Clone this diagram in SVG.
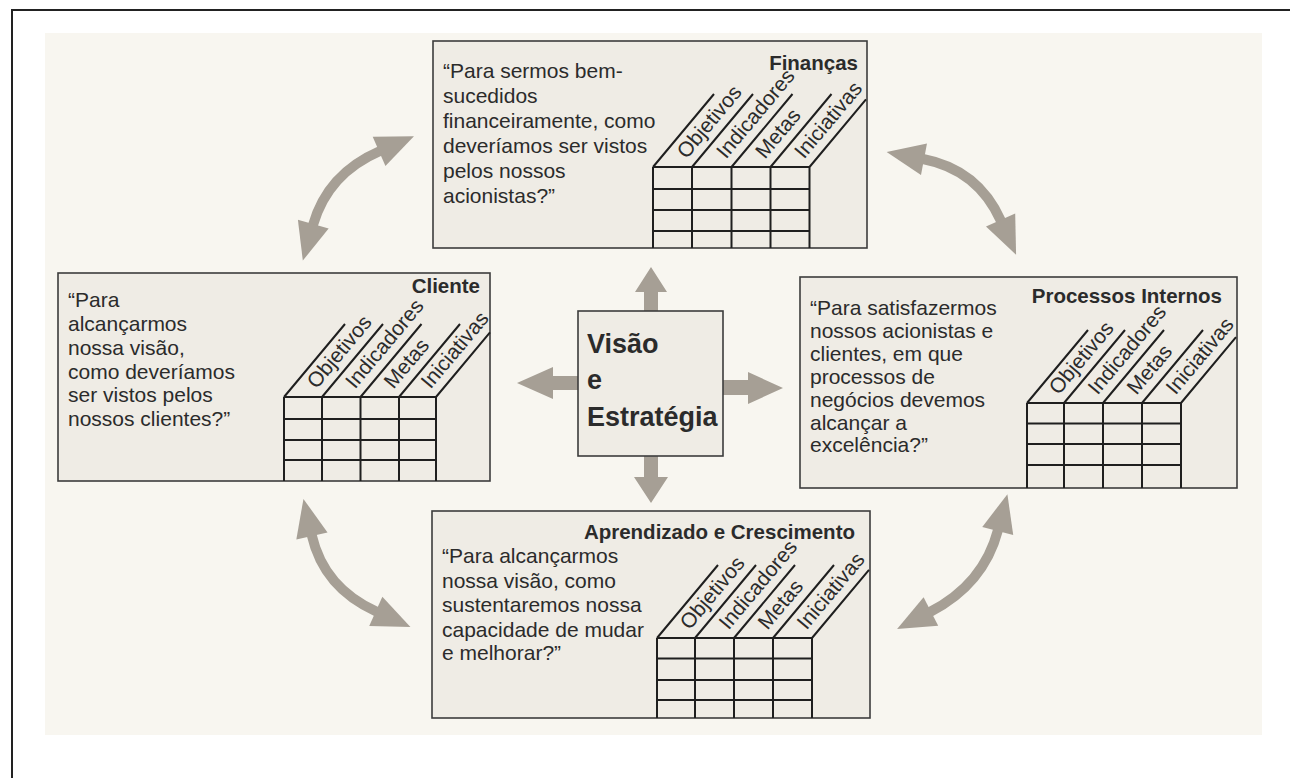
<svg xmlns="http://www.w3.org/2000/svg" width="1290" height="778" viewBox="0 0 1290 778">
<style>
.frame{stroke:#222;stroke-width:2;fill:none}
.box{fill:#efece5;stroke:#3c3c3c;stroke-width:1.6}
.t{font-family:"Liberation Sans",Arial,Helvetica,sans-serif;fill:#2b2b2b}
.body{font-size:21px}
.title{font-size:20.5px;font-weight:bold;text-anchor:end}
.lbl{font-size:21px}
.center{font-size:27px;font-weight:bold}
.grid{stroke:#1f1f1f;stroke-width:2;fill:none}
.arc{stroke:#a69f95;stroke-width:10;fill:none;marker-start:url(#head);marker-end:url(#head)}
.arrow{fill:#a69f95}
</style>
<defs>
<marker id="head" markerUnits="userSpaceOnUse" markerWidth="38" markerHeight="32" viewBox="0 0 38 32" refX="1" refY="16" orient="auto-start-reverse" overflow="visible">
<path d="M0,0 L38,16 L0,32 Z" fill="#a69f95"/>
</marker>
</defs>
<rect x="0" y="0" width="1290" height="778" fill="#ffffff"/>
<path class="frame" d="M12,778 L12,10 L1290,10"/>
<rect x="45" y="33" width="1217" height="702" fill="#f8f6f0"/>

<g id="connectors">
<path class="arc" d="M380,151 Q327.7,173.6 313,225"/>
<path class="arc" d="M923,159 Q978,169.5 1001,221"/>
<path class="arc" d="M311.7,535 Q323.8,587.9 376.7,611.7"/>
<path class="arc" d="M998,530 Q983.7,584.4 930,612"/>
<path class="arrow" d="M644,312 L644,292 L635,292 L651,267 L667,292 L658,292 L658,312 Z"/>
<path class="arrow" d="M644,455 L644,477 L634,477 L651,503 L668,477 L658,477 L658,455 Z"/>
<path class="arrow" d="M579,376 L553,376 L553,367 L517,383 L553,399 L553,390 L579,390 Z"/>
<path class="arrow" d="M722,380 L748,380 L748,372 L783,388 L748,404 L748,395 L722,395 Z"/>
</g>

<g id="node-financas">
<rect class="box" x="433" y="41" width="434" height="207"/>
<text class="t title" x="858" y="70">Finanças</text>
<text class="t body" x="443" y="78">“Para sermos bem-</text>
<text class="t body" x="443" y="103">sucedidos</text>
<text class="t body" x="443" y="128">financeiramente, como</text>
<text class="t body" x="443" y="153">deveríamos ser vistos</text>
<text class="t body" x="443" y="178">pelos nossos</text>
<text class="t body" x="443" y="203">acionistas?”</text>
<path class="grid" d="M653,248 V167 M692,248 V167 M731.5,248 V167 M770.5,248 V167 M809.5,248 V167 M653,167 H809.5 M653,189 H809.5 M653,210 H809.5 M653,231 H809.5 M653,167 l61,-73 M692,167 l61,-73 M731.5,167 l61,-73 M770.5,167 l61,-73 M809.5,167 L866,99.4"/>
<text class="t lbl" transform="translate(686.4,159.7) rotate(-50)">Objetivos</text>
<text class="t lbl" transform="translate(725.9,159.7) rotate(-50)">Indicadores</text>
<text class="t lbl" transform="translate(764.9,159.7) rotate(-50)">Metas</text>
<text class="t lbl" transform="translate(803.9,159.7) rotate(-50)">Iniciativas</text>
</g>

<g id="node-cliente">
<rect class="box" x="58" y="273" width="432" height="208"/>
<text class="t title" x="480" y="293">Cliente</text>
<text class="t body" x="68" y="307">“Para</text>
<text class="t body" x="68" y="330.5">alcançarmos</text>
<text class="t body" x="68" y="354.5">nossa visão,</text>
<text class="t body" x="68" y="378.5">como deveríamos</text>
<text class="t body" x="68" y="402">ser vistos pelos</text>
<text class="t body" x="68" y="426">nossos clientes?”</text>
<path class="grid" d="M284,481 V397 M322,481 V397 M360.5,481 V397 M399,481 V397 M436,481 V397 M284,397 H436 M284,419 H436 M284,440 H436 M284,460 H436 M284,397 l61,-73 M322,397 l61,-73 M360.5,397 l61,-73 M399,397 l61,-73 M436,397 L490,332.4"/>
<text class="t lbl" transform="translate(316.4,389.7) rotate(-50)">Objetivos</text>
<text class="t lbl" transform="translate(354.9,389.7) rotate(-50)">Indicadores</text>
<text class="t lbl" transform="translate(393.4,389.7) rotate(-50)">Metas</text>
<text class="t lbl" transform="translate(430.4,389.7) rotate(-50)">Iniciativas</text>
</g>

<g id="node-processos">
<rect class="box" x="800" y="277" width="437" height="211"/>
<text class="t title" x="1222" y="303">Processos Internos</text>
<text class="t body" x="810" y="315">“Para satisfazermos</text>
<text class="t body" x="810" y="338">nossos acionistas e</text>
<text class="t body" x="810" y="361">clientes, em que</text>
<text class="t body" x="810" y="383.5">processos de</text>
<text class="t body" x="810" y="406.5">negócios devemos</text>
<text class="t body" x="810" y="429.5">alcançar a</text>
<text class="t body" x="810" y="452">excelência?”</text>
<path class="grid" d="M1027,488 V403 M1064,488 V403 M1103,488 V403 M1142,488 V403 M1181,488 V403 M1027,403 H1181 M1027,423.5 H1181 M1027,444 H1181 M1027,465 H1181 M1027,403 l61,-73 M1064,403 l61,-73 M1103,403 l61,-73 M1142,403 l61,-73 M1181,403 L1236,337.2"/>
<text class="t lbl" transform="translate(1058.4,395.7) rotate(-50)">Objetivos</text>
<text class="t lbl" transform="translate(1097.4,395.7) rotate(-50)">Indicadores</text>
<text class="t lbl" transform="translate(1136.4,395.7) rotate(-50)">Metas</text>
<text class="t lbl" transform="translate(1175.4,395.7) rotate(-50)">Iniciativas</text>
</g>

<g id="node-aprendizado">
<rect class="box" x="432" y="511" width="438" height="207"/>
<text class="t title" x="855" y="539">Aprendizado e Crescimento</text>
<text class="t body" x="442" y="563">“Para alcançarmos</text>
<text class="t body" x="442" y="587.5">nossa visão, como</text>
<text class="t body" x="442" y="611.5">sustentaremos nossa</text>
<text class="t body" x="442" y="636.5">capacidade de mudar</text>
<text class="t body" x="442" y="660">e melhorar?”</text>
<path class="grid" d="M657,718 V638 M695,718 V638 M734,718 V638 M773,718 V638 M812,718 V638 M657,638 H812 M657,658.5 H812 M657,680 H812 M657,700 H812 M657,638 l61,-73 M695,638 l61,-73 M734,638 l61,-73 M773,638 l61,-73 M812,638 L869,569.8"/>
<text class="t lbl" transform="translate(689.4,630.7) rotate(-50)">Objetivos</text>
<text class="t lbl" transform="translate(728.4,630.7) rotate(-50)">Indicadores</text>
<text class="t lbl" transform="translate(767.4,630.7) rotate(-50)">Metas</text>
<text class="t lbl" transform="translate(806.4,630.7) rotate(-50)">Iniciativas</text>
</g>

<g id="node-visao">
<rect class="box" x="578" y="311" width="145" height="145" stroke="#555"/>
<text class="t center" x="587" y="353">Visão</text>
<text class="t center" x="587" y="389">e</text>
<text class="t center" x="587" y="426">Estratégia</text>
</g>
</svg>
